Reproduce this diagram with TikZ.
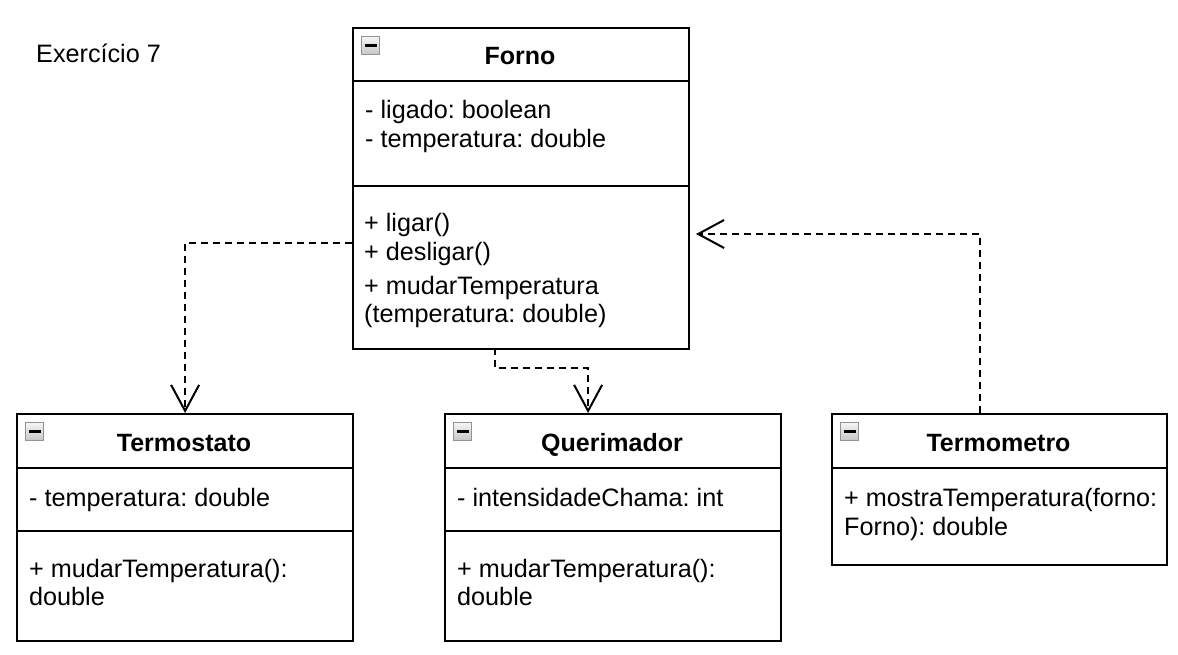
\documentclass[tikz,border=0pt]{standalone}
\usepackage{fontspec}
\setmainfont{Liberation Sans}
\usetikzlibrary{arrows.meta}
\frenchspacing

\tikzset{
	box/.style={draw, line width=2.2pt, inner sep=0pt, anchor=north west},
	sep/.style={line width=2.2pt},
	txt/.style={anchor=base west, inner sep=0pt, font=\fontsize{25.2}{29}\selectfont},
	ttl/.style={anchor=base, inner sep=0pt, font=\fontsize{25}{29}\selectfont\bfseries},
	icon/.style={draw=gray!85, line width=1.3pt, top color=gray!8, bottom color=gray!45, minimum size=18pt, inner sep=0pt, anchor=north west,
		path picture={\draw[black, line width=2.6pt] ([xshift=3pt]path picture bounding box.west) -- ([xshift=-3pt]path picture bounding box.east);}},
	dep/.style={line width=2pt, dash pattern=on 7pt off 5pt, -{Straight Barb[length=26pt, width=28pt, line width=2pt]}}
}

\begin{document}
\begin{tikzpicture}[x=1pt, y=-1pt]
	\useasboundingbox (0,0) rectangle (1178,654);
	
	\node[txt] (titulo) at (36,62) {Exercício 7};
	
	% Forno
	\node[box, minimum width=336pt, minimum height=321pt] (forno) at (352,27) {};
	\draw[sep] (352,81) -- (688,81);
	\draw[sep] (352,186) -- (688,186);
	\node[icon] (fornoIcon) at (361,36) {};
	\node[ttl] (fornoNome) at (520,64) {Forno};
	\node[txt] (fornoA1) at (365,118) {- ligado: boolean};
	\node[txt] (fornoA2) at (365,147.5) {- temperatura: double};
	\node[txt] (fornoM1) at (364,231.5) {+ ligar()};
	\node[txt] (fornoM2) at (364,260) {+ desligar()};
	\node[txt] (fornoM3) at (364,294) {+ mudarTemperatura};
	\node[txt] (fornoM4) at (364,322.5) {(temperatura: double)};
	
	% Termostato
	\node[box, minimum width=336pt, minimum height=227pt] (termostato) at (16,413) {};
	\draw[sep] (16,468) -- (352,468);
	\draw[sep] (16,531) -- (352,531);
	\node[icon] (termostatoIcon) at (25,422) {};
	\node[ttl] (termostatoNome) at (184,451) {Termostato};
	\node[txt] (termostatoA1) at (29,506) {- temperatura: double};
	\node[txt] (termostatoM1) at (29,577) {+ mudarTemperatura():};
	\node[txt] (termostatoM2) at (29,605.5) {double};
	
	% Querimador
	\node[box, minimum width=336pt, minimum height=227pt] (querimador) at (444,413) {};
	\draw[sep] (444,468) -- (780,468);
	\draw[sep] (444,531) -- (780,531);
	\node[icon] (querimadorIcon) at (453,422) {};
	\node[ttl] (querimadorNome) at (612,451) {Querimador};
	\node[txt] (querimadorA1) at (457,506) {- intensidadeChama: int};
	\node[txt] (querimadorM1) at (457,577) {+ mudarTemperatura():};
	\node[txt] (querimadorM2) at (457,605.5) {double};
	
	% Termometro
	\node[box, minimum width=335pt, minimum height=151pt] (termometro) at (831,413) {};
	\draw[sep] (831,468) -- (1166,468);
	\node[icon] (termometroIcon) at (840,422) {};
	\node[ttl] (termometroNome) at (998.5,451) {Termometro};
	\node[txt] (termometroM1) at (844,506) {+ mostraTemperatura(forno:};
	\node[txt] (termometroM2) at (844,535) {Forno): double};
	
	% dependencias
	\coordinate (fornoL) at (352,243);
	\coordinate (fornoB) at (495,348);
	\coordinate (fornoR) at (696,234);
	\draw[dep] (fornoL) -| (termostato.north);
	\draw[dep] (fornoB) -- ++(0,20) -| ([xshift=-25pt]querimador.north);
	\draw[dep] ([xshift=-19.5pt]termometro.north) |- (fornoR);
\end{tikzpicture}
\end{document}
